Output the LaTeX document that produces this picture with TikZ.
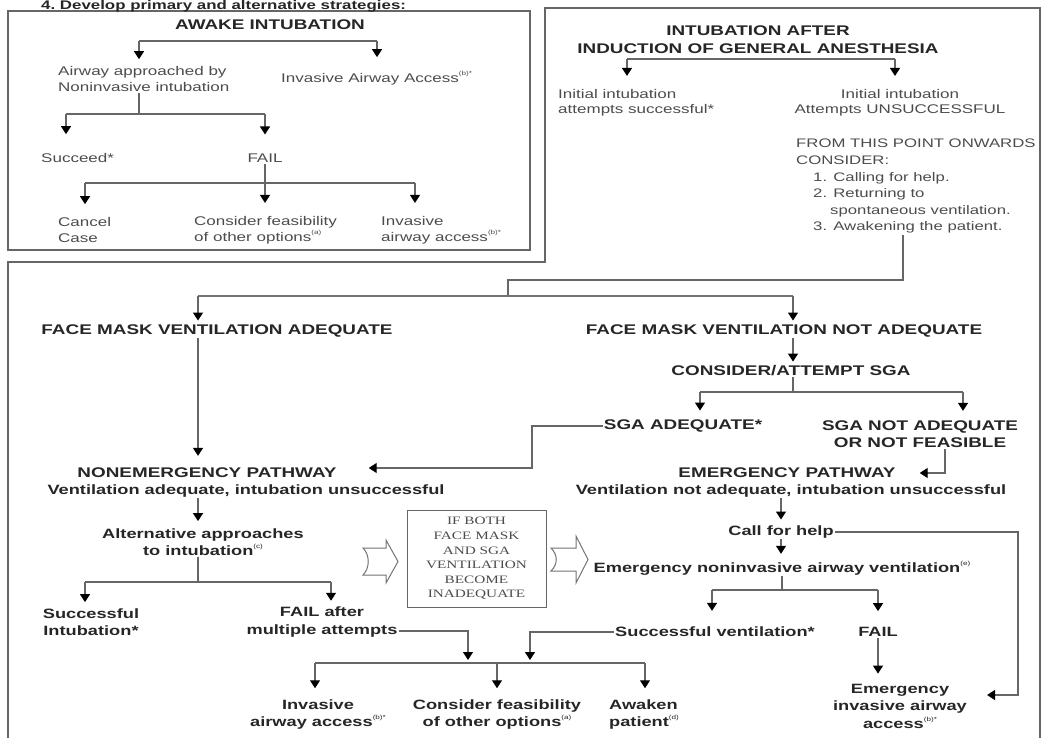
\documentclass[tikz,border=0pt]{standalone}
\usepackage{fontspec}
\setmainfont{Liberation Sans}[FakeStretch=1.35]
\newfontfamily\serfont{Liberation Serif}[FakeStretch=1.35]
\usetikzlibrary{arrows.meta,calc}
\newcommand\supref[1]{\raisebox{0.5em}{\fontsize{6}{6}\selectfont\mdseries #1}}
\begin{document}
\begin{tikzpicture}[x=1pt,y=-1pt,
  ln/.style={draw=black!60, line width=1.3pt},
  arr/.style={ln, -{Triangle[width=10pt,length=8pt,color=black]}},
  hd/.style={font=\bfseries\fontsize{14}{18}\selectfont, inner sep=1pt, align=center, text=black!85},
  bx/.style={font=\bfseries\fontsize{13.5}{17.5}\selectfont, inner sep=1pt, align=center, text=black!85},
  tx/.style={font=\fontsize{12.6}{16}\selectfont, inner sep=1pt, text=black!70},
  frame/.style={draw=black!60, line width=1.2pt},
  blk/.style={draw=black!55, line width=1pt, fill=white}]
\useasboundingbox (0,0) rectangle (1046,738);
\clip (0,0) rectangle (1046,738);

% frames
\draw[frame] (8,11) rectangle (530,250);
\draw[frame] (545,8) -- (1040,8) -- (1040,760) -- (8,760) -- (8,262) -- (545,262) -- cycle;

\node[hd, anchor=base west, font=\bfseries\fontsize{12.5}{14}\selectfont] (title) at (40,9.5) {4.\ Develop primary and alternative strategies:};

% ---------- awake intubation ----------
\node[hd] (awake) at (270,25) {AWAKE INTUBATION};
\node[tx, align=left, anchor=west] (nonInv) at (57,79) {Airway approached by\\Noninvasive intubation};
\node[tx, anchor=west] (invA) at (280,78) {Invasive Airway Access\supref{(b)*}};
\node[tx, anchor=west] (succ) at (40,158) {Succeed*};
\node[tx] (fail1) at (265,158) {FAIL};
\node[tx, align=left, anchor=west] (cancel) at (57,230) {Cancel\\Case};
\node[tx, align=left, anchor=west] (cons1) at (193,230) {Consider feasibility\\of other options\supref{(a)}};
\node[tx, align=left, anchor=west] (inv1) at (380,230) {Invasive\\airway access\supref{(b)*}};

\coordinate (tl1) at (139,41); \coordinate (tr1) at (377,41);
\draw[ln] (tl1) -- (tr1);
\draw[arr, shorten >=6pt] (tl1) -- (tl1 |- nonInv.north);
\draw[arr, shorten >=13pt] (tr1) -- (tr1 |- invA.north);
\coordinate (j2) at (139,114);
\draw[ln] (j2 |- nonInv.south) -- (j2);
\coordinate (j2l) at (66,114); \coordinate (j2r) at (265,114);
\draw[ln] (j2l) -- (j2r);
\draw[arr, shorten >=18pt] (j2l) -- (j2l |- succ.north);
\draw[arr, shorten >=18pt] (j2r) -- (fail1.north);
\coordinate (j3l) at (85,183); \coordinate (j3r) at (415,183);
\draw[ln] (j3l) -- (j3r);
\draw[arr, shorten >=12pt] (fail1.south) -- (fail1.south |- cons1.north);
\draw[arr, shorten >=12pt] (j3l) -- (j3l |- cancel.north);
\draw[arr, shorten >=12pt] (j3r) -- (j3r |- inv1.north);

% ---------- intubation after induction ----------
\node[hd] (ia) at (758,40) {INTUBATION AFTER\\INDUCTION OF GENERAL ANESTHESIA};
\coordinate (k1) at (627,59); \coordinate (k2) at (895,59);
\draw[ln] (k1) -- (k2);
\node[tx, align=left, anchor=west, font=\fontsize{12.6}{15}\selectfont] (iis) at (557,102.5) {Initial intubation\\attempts successful*};
\node[tx, align=center, font=\fontsize{12.6}{15}\selectfont] (iiu) at (900,102.5) {Initial intubation\\Attempts UNSUCCESSFUL};
\draw[arr, shorten >=12pt] (k1) -- (k1 |- iis.north);
\draw[arr, shorten >=12pt] (k2) -- (k2 |- iiu.north);
\node[tx, align=left, anchor=north west, font=\fontsize{12.4}{16.6}\selectfont] (from) at (795,138) {FROM THIS POINT ONWARDS\\CONSIDER:\\\hspace*{17pt}1. Calling for help.\\\hspace*{17pt}2. Returning to\\\hspace*{34pt}spontaneous ventilation.\\\hspace*{17pt}3. Awakening the patient.};

\coordinate (c1) at (903,280); \coordinate (c2) at (508,280); \coordinate (c3) at (508,296);
\draw[ln] (from.south -| c1) -- (c1) -- (c2) -- (c3);
\coordinate (h1) at (198,296); \coordinate (h2) at (793,296);
\draw[ln, line width=2pt, draw=black!55] (h1) -- (h2);

% ---------- lower part ----------
\node[hd] (fmva) at (217,331) {FACE MASK VENTILATION ADEQUATE};
\node[hd] (fmvna) at (784,331) {FACE MASK VENTILATION NOT ADEQUATE};
\node[hd] (cas) at (791,371) {CONSIDER/ATTEMPT SGA};
\node[hd] (sgaA) at (683,426) {SGA ADEQUATE*};
\node[hd, font=\bfseries\fontsize{14}{17}\selectfont] (sgaN) at (920,434.5) {SGA NOT ADEQUATE\\OR NOT FEASIBLE};
\node[hd] (nep1) at (207,473) {NONEMERGENCY PATHWAY};
\node[bx] (nep2) at (246,491) {Ventilation adequate, intubation unsuccessful};
\node[bx] (alt) at (203,542) {Alternative approaches\\to intubation\supref{(c)}};
\node[bx] (si) at (91,622) {Successful\\Intubation*};
\node[bx] (fam) at (322,622) {FAIL after\\multiple attempts};
\node[bx] (iaa) at (318,714.5) {Invasive\\airway access\supref{(b)*}};
\node[bx] (cfo) at (497,714.5) {Consider feasibility\\of other options\supref{(a)}};
\node[bx, align=left, anchor=west] (awk) at (608,714.5) {Awaken\\patient\supref{(d)}};
\node[hd] (ep1) at (787,473) {EMERGENCY PATHWAY};
\node[bx] (ep2) at (791,491) {Ventilation not adequate, intubation unsuccessful};
\node[bx] (cfh) at (781,532) {Call for help};
\node[bx] (emv) at (782,568) {Emergency noninvasive airway ventilation\supref{(e)}};
\node[bx] (sv) at (715,632) {Successful ventilation*};
\node[bx] (fail2) at (878,632) {FAIL};
\node[bx] (eia) at (900,706) {Emergency\\invasive airway\\access\supref{(b)*}};

\node[draw=black!60, line width=1pt, minimum width=139pt, minimum height=97pt, inner sep=0pt,
      font=\serfont\fontsize{11.3}{14.6}\selectfont, align=center, text=black!70] (ctr) at (476.5,558.5)
      {IF BOTH\\FACE MASK\\AND SGA\\VENTILATION\\BECOME\\INADEQUATE};

% block arrows
\draw[blk] (363,548) -- (386,548) -- (386,540) -- (398,561.5) -- (386,583) -- (386,575) -- (363,575)
   .. controls (370,568) and (370,555) .. (363,548) -- cycle;
\draw[blk] (551,548) -- (576,548) -- (576,536) -- (588,559.5) -- (576,583) -- (576,571) -- (551,571)
   .. controls (558,564) and (558,555) .. (551,548) -- cycle;

% connectors lower
\draw[arr, shorten >=3pt] (h1) -- (h1 |- fmva.north);
\draw[arr, shorten >=3pt] (h2) -- (h2 |- fmvna.north);
\draw[arr, shorten >=3pt] (fmvna.south -| h2) -- (h2 |- cas.north);
\coordinate (s0) at (793,392);
\draw[ln] (cas.south -| s0) -- (s0);
\coordinate (s1) at (700,392); \coordinate (s2) at (963,392);
\draw[ln] (s1) -- (s2);
\draw[arr, shorten >=8pt] (s1) -- (s1 |- sgaA.north);
\draw[arr, shorten >=9pt] (s2) -- (s2 |- sgaN.north);
\coordinate (q1) at (532,426); \coordinate (q2) at (532,468);
\draw[arr, shorten >=31pt] (sgaA.west) -- (q1) -- (q2) -- (q2 -| nep1.east);

\draw[arr, shorten >=11pt] (fmva.south -| h1) -- (h1 |- nep1.north);
\draw[arr, shorten >=6pt] (nep2.south -| h1) -- (h1 |- alt.north);
\coordinate (b0) at (198,582); \coordinate (b1) at (85,582); \coordinate (b2) at (331,582);
\draw[ln] (alt.south -| b0) -- (b0);
\draw[ln] (b1) -- (b2);
\draw[arr, shorten >=5pt] (b1) -- (b1 |- si.north);
\draw[arr, shorten >=5pt] (b2) -- (b2 |- fam.north);

\coordinate (m1) at (468,663); \coordinate (m2) at (530,663);
\coordinate (mL) at (315,663); \coordinate (mR) at (645,663); \coordinate (mC) at (497,663);
\draw[ln] (mL) -- (mR);
\draw[arr, shorten >=3pt] ([yshift=-9pt]fam.east) -| (m1);
\draw[arr, shorten >=3pt] (sv.west) -| (m2);
\draw[arr, shorten >=10pt] (mL) -- (mL |- iaa.north);
\draw[arr, shorten >=10pt] (mC) -- (mC |- cfo.north);
\draw[arr, shorten >=10pt] (mR) -- (mR |- awk.north);

\coordinate (e0) at (945,473);
\draw[arr, shorten >=23pt] (sgaN.south -| e0) -- (e0) -- (e0 -| ep1.east);
\draw[arr, shorten >=5pt] (cfh.north |- ep2.south) -- (cfh.north);
\draw[arr, shorten >=6pt] (cfh.south) -- (cfh.south |- emv.north);
\coordinate (r1) at (1018,695);
\draw[arr, shorten >=19pt] (cfh.east) -| (r1) -- (r1 -| eia.east);
\coordinate (t0) at (782,590); \coordinate (t1) at (712,590); \coordinate (t2) at (878,590);
\draw[ln] (emv.south -| t0) -- (t0);
\draw[ln] (t1) -- (t2);
\draw[arr, shorten >=15pt] (t1) -- (t1 |- sv.north);
\draw[arr, shorten >=15pt] (t2) -- (t2 |- fail2.north);
\draw[arr, shorten >=9pt] (fail2.south) -- (fail2.south |- eia.north);
\end{tikzpicture}
\end{document}
